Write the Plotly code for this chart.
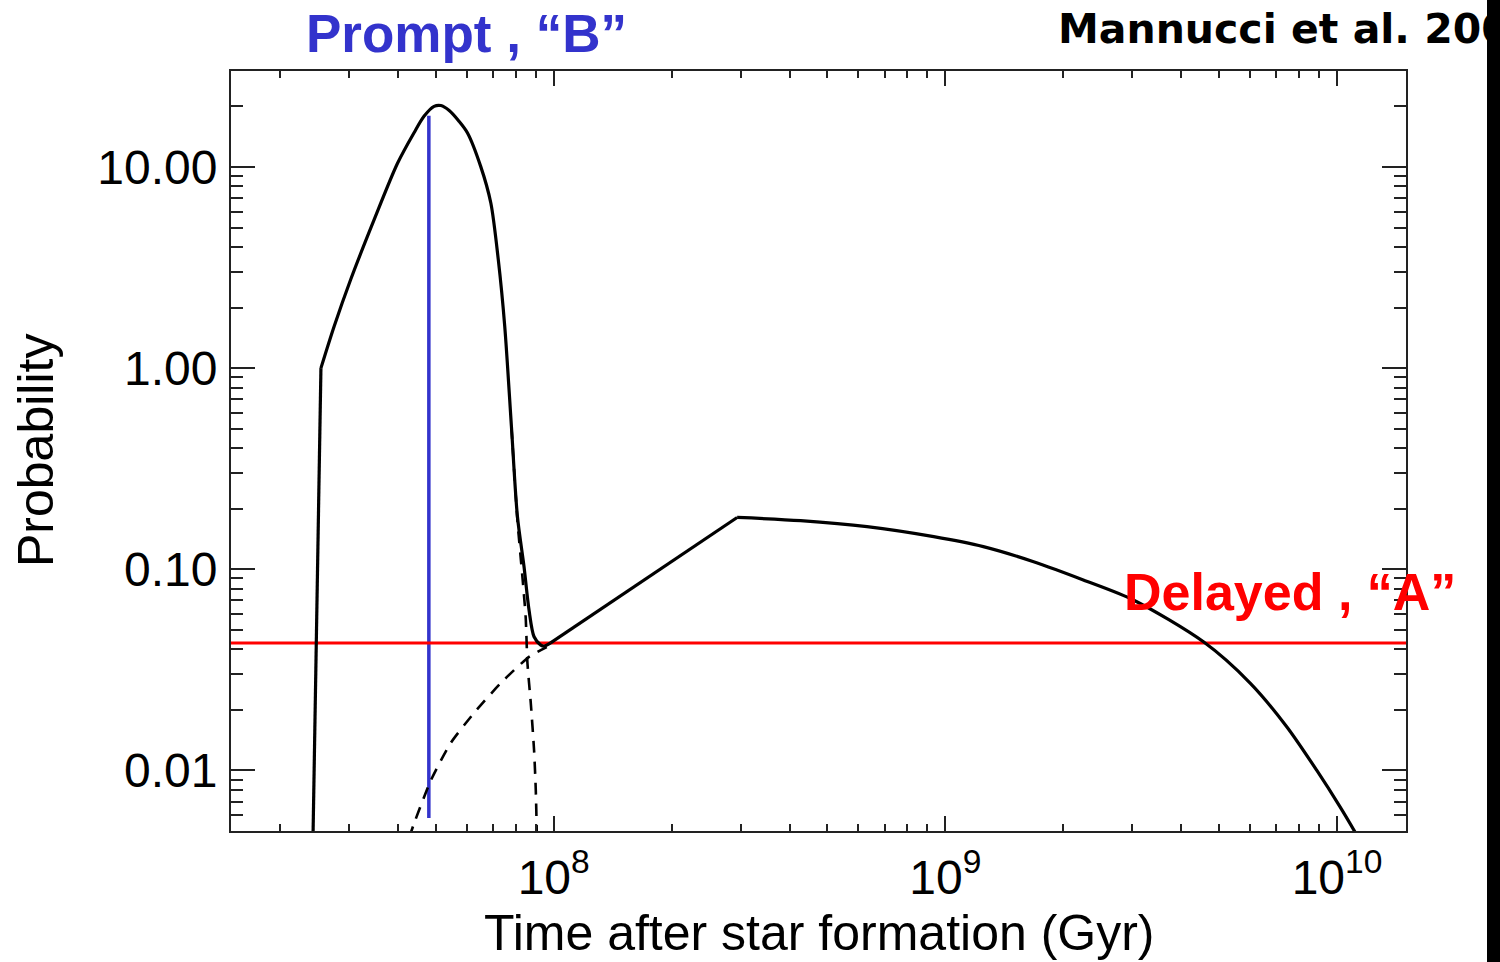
import math
import plotly.graph_objects as go

# Time (yr) and probability of the total delay-time distribution (solid curve)
total_t = [2.42e7, 2.43e7, 2.545e7, 2.75e7, 3.03e7, 3.48e7, 3.99e7, 4.40e7, 4.67e7,
           4.95e7, 5.15e7, 5.41e7, 5.73e7, 6.02e7, 6.51e7, 6.91e7, 7.22e7, 7.50e7,
           7.80e7, 8.08e7, 8.40e7, 8.65e7, 8.91e7, 9.27e7, 9.45e7, 9.82e7, 2.94e8,
           4.27e8, 6.31e8, 9.34e8, 1.25e9, 1.68e9, 2.25e9, 3.02e9, 4.56e9, 6.0e9,
           7.44e9, 8.88e9, 1.018e10, 1.111e10, 1.2e10]
total_p = [0.003, 0.005, 1.0, 1.61, 2.75, 5.47, 10.4, 14.8, 17.9,
           20.0, 20.2, 19.1, 16.9, 14.8, 10.07, 6.62, 3.46, 1.61,
           0.512, 0.183, 0.103, 0.0627, 0.0462, 0.0420, 0.0415, 0.0431, 0.181,
           0.1745, 0.163, 0.1453, 0.1296, 0.109, 0.0885, 0.0704, 0.0436, 0.0272,
           0.0165, 0.0100, 0.00659, 0.00495, 0.0038]

# Prompt component tail (dashed)
prompt_t = [7.80e7, 8.08e7, 8.32e7, 8.48e7, 8.57e7, 8.74e7, 8.91e7, 9.00e7, 9.05e7, 9.08e7]
prompt_p = [0.512, 0.175, 0.0918, 0.0581, 0.0341, 0.0216, 0.0126, 0.0080, 0.00505, 0.0035]

# Delayed component rise (dashed)
delayed_t = [4.27e7, 4.40e7, 4.86e7, 5.46e7, 6.26e7, 7.33e7, 8.65e7, 9.6e7]
delayed_p = [0.0046, 0.00545, 0.00895, 0.0137, 0.0193, 0.0272, 0.0367, 0.041]

# "B": prompt delta at fixed time, "A": constant delayed level
prompt_time = 4.8e7
prompt_span = [0.0058, 18.0]
delayed_level = 0.043

x_range = [1.5e7, 1.5e10]
y_range = [0.005, 30.0]

x_tickvals = [1e8, 1e9, 1e10]
x_ticktext = ["10<sup>8</sup>", "10<sup>9</sup>", "10<sup>10</sup>"]
y_tickvals = [0.01, 0.1, 1.0, 10.0]
y_ticktext = ["0.01", "0.10", "1.00", "10.00"]

FONT = "Liberation Sans, Arial, Helvetica, sans-serif"
BLUE = "#3333CC"
RED = "#FF0000"

fig = go.Figure()

fig.add_trace(go.Scatter(x=[prompt_time, prompt_time], y=prompt_span, mode="lines",
                         line=dict(color=BLUE, width=3.5), showlegend=False))
fig.add_trace(go.Scatter(x=x_range, y=[delayed_level, delayed_level], mode="lines",
                         line=dict(color=RED, width=3), showlegend=False))

dashed = dict(color="black", width=2.6, dash="12px,9px", shape="spline", smoothing=0.6)
fig.add_trace(go.Scatter(x=prompt_t, y=prompt_p, mode="lines", line=dashed, showlegend=False))
fig.add_trace(go.Scatter(x=delayed_t, y=delayed_p, mode="lines", line=dashed, showlegend=False))

# The total curve has sharp corners at the onset, at the dip and at the
# delayed-component turnover; smooth pieces are splined between them.
i_onset = total_t.index(2.545e7)
i_dip = total_t.index(9.82e7)
i_turn = total_t.index(2.94e8)
pieces = [
    (0, i_onset, "linear"),
    (i_onset, i_dip, "spline"),
    (i_dip, i_turn, "linear"),
    (i_turn, len(total_t) - 1, "spline"),
]
for a, b, shape in pieces:
    fig.add_trace(go.Scatter(
        x=total_t[a:b + 1], y=total_p[a:b + 1], mode="lines",
        line=dict(color="black", width=3.2, shape=shape,
                  **({"smoothing": 0.8} if shape == "spline" else {})),
        showlegend=False))

axis_common = dict(
    type="log", showgrid=False, zeroline=False, showline=True,
    linecolor="#222222", linewidth=2, mirror="allticks",
    ticks="inside", tickwidth=2, tickcolor="#222222",
    tickmode="array", tickfont=dict(family=FONT, size=48, color="black"),
)

fig.update_xaxes(
    **axis_common,
    range=[math.log10(v) for v in x_range],
    tickvals=x_tickvals, ticktext=x_ticktext, ticklen=15,
    ticklabelstandoff=3,
    minor=dict(ticks="inside", ticklen=7, tickwidth=2, tickcolor="#222222", dtick="D1"),
)
fig.update_yaxes(
    **axis_common,
    range=[math.log10(v) for v in y_range],
    tickvals=y_tickvals, ticktext=y_ticktext, ticklen=24,
    ticklabelstandoff=2,
    minor=dict(ticks="inside", ticklen=12, tickwidth=2, tickcolor="#222222", dtick="D1"),
)

L, R, T, B = 231, 94, 71, 131
W, H = 1500, 962
PW, PH = W - L - R, H - T - B


def px(xp):
    return (xp - L) / PW


def py(yp):
    return (H - B - yp) / PH


annotations = [
    dict(text="Time after star formation (Gyr)", x=0.5, y=py(933), xref="paper", yref="paper",
         xanchor="center", yanchor="middle", showarrow=False,
         font=dict(family=FONT, size=50, color="black")),
    dict(text="Probability", x=px(36), y=0.5, xref="paper", yref="paper", textangle=-90,
         xanchor="center", yanchor="middle", showarrow=False,
         font=dict(family=FONT, size=50, color="black")),
    dict(text="<b>Prompt , \u201cB\u201d</b>", x=px(466), y=py(34), xref="paper", yref="paper",
         xanchor="center", yanchor="middle", showarrow=False,
         font=dict(family=FONT, size=53, color=BLUE)),
    dict(text="<b>Delayed , \u201cA\u201d</b>", x=px(1290), y=py(592), xref="paper", yref="paper",
         xanchor="center", yanchor="middle", showarrow=False,
         font=dict(family=FONT, size=52, color=RED)),
    dict(text="<b>Mannucci et al. 2006</b>", x=px(1056), y=py(29), xref="paper", yref="paper",
         xanchor="left", yanchor="middle", showarrow=False,
         font=dict(family="DejaVu Sans, sans-serif", size=41, color="black")),
    # black strip along the right edge
    dict(text=".", x=px(1493.5), y=py(481), xref="paper", yref="paper",
         xanchor="center", yanchor="middle", showarrow=False, width=13, height=962,
         bgcolor="black", borderpad=0, borderwidth=0,
         font=dict(size=10, color="black")),
]

fig.update_layout(
    width=W, height=H,
    margin=dict(l=L, r=R, t=T, b=B, pad=0),
    paper_bgcolor="white", plot_bgcolor="white",
    showlegend=False,
    annotations=annotations,
)

fig.write_html("out.html")
